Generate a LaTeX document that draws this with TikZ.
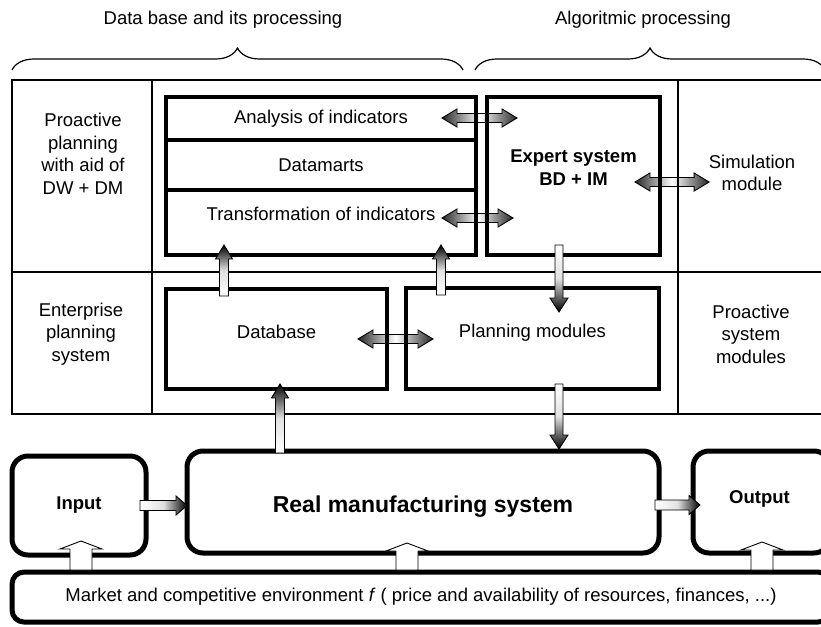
\documentclass[tikz,border=0pt]{standalone}
\usepackage{fontspec}
\setmainfont{Liberation Sans}
\usetikzlibrary{calc,decorations.pathreplacing}
\pgfdeclarelayer{background}
\pgfsetlayers{background,main}

\tikzset{
  arrow shaft/.store in=\arrshaft, arrow head/.store in=\arrhead, arrow tip/.store in=\arrtip,
  arrow shaft=4.5pt, arrow head=8.5pt, arrow tip=14pt,
  txt/.style={font=\fontsize{18.5}{22.5}\selectfont, align=center, inner sep=2pt},
  btxt/.style={txt, font=\fontsize{18.5}{22.5}\selectfont\bfseries},
  box/.style={draw, line width=4.5pt, outer sep=0pt, inner sep=0pt},
  rbox/.style={box, line width=5pt, rounded corners=16pt},
  grid/.style={line width=1.3pt},
  flow/.style={draw, line width=0.9pt, line join=miter},
  flowup/.style={flow, bottom color=white, top color=black, middle color=black!12},
  flowdown/.style={flow, top color=white, bottom color=black, middle color=black!12, arrow shaft=4pt, arrow head=9pt},
  flowright/.style={flow, left color=white, right color=black, middle color=black!12, arrow shaft=5pt, arrow head=9.5pt, arrow tip=11pt},
  flowboth/.style={flow, left color=black!85, right color=black!85, middle color=white, arrow head=9pt, arrow tip=15pt},
  feed/.style={flow, fill=white, arrow shaft=11pt, arrow head=21pt, arrow tip=8pt},
}

% block arrows: [style]{start}{tip}
\newcommand\flowv[3][]{%
  \path[#1] let \p1=(#2), \p2=(#3), \p3=($(\p2)!\arrtip!(\p1)$) in
    (\x1-\arrshaft,\y1) -- (\x1-\arrshaft,\y3) -- (\x1-\arrhead,\y3) -- (\x1,\y2)
    -- (\x1+\arrhead,\y3) -- (\x1+\arrshaft,\y3) -- (\x1+\arrshaft,\y1) -- cycle;}
\newcommand\flowh[3][]{%
  \path[#1] let \p1=(#2), \p2=(#3), \p3=($(\p2)!\arrtip!(\p1)$) in
    (\x1,\y1-\arrshaft) -- (\x3,\y1-\arrshaft) -- (\x3,\y1-\arrhead) -- (\x2,\y1)
    -- (\x3,\y1+\arrhead) -- (\x3,\y1+\arrshaft) -- (\x1,\y1+\arrshaft) -- cycle;}
\newcommand\flowhh[3][]{%
  \path[#1] let \p1=(#2), \p2=(#3), \p3=($(\p2)!\arrtip!(\p1)$), \p4=($(\p1)!\arrtip!(\p2)$) in
    (\x1,\y1) -- (\x4,\y1+\arrhead) -- (\x4,\y1+\arrshaft) -- (\x3,\y1+\arrshaft) -- (\x3,\y1+\arrhead)
    -- (\x2,\y1) -- (\x3,\y1-\arrhead) -- (\x3,\y1-\arrshaft) -- (\x4,\y1-\arrshaft) -- (\x4,\y1-\arrhead) -- cycle;}

\begin{document}
\begin{tikzpicture}[x=1pt, y=-1pt]
\useasboundingbox (0,0) rectangle (821,626);
% headings and braces
\node[txt] (hdata) at (223,20) {Data base and its processing};
\node[txt] (halgo) at (643,20) {Algoritmic processing};
\draw[line width=1.2pt, decorate, decoration={brace, amplitude=22pt}] (12,70) -- (463,70);
\draw[line width=1.2pt, decorate, decoration={brace, amplitude=22pt}] (475,70) -- (825,70);
% table
\draw[grid] (12,80) rectangle (830,414);
\draw[grid] (12,272) -- (830,272);
\draw[grid] (152,80) -- (152,414);
\draw[grid] (678,80) -- (678,414);
\node[txt] (dwlbl) at (83,154) {Proactive\\planning\\with aid of\\DW + DM};
\node[txt] (sim) at (752,173) {Simulation\\module};
\node[txt] (eps) at (81,334) {Enterprise\\planning\\system};
\node[txt] (psm) at (751,334) {Proactive\\system\\modules};
% data warehouse
\node[box, txt, minimum width=310pt, minimum height=43pt] (ana) at (321,118.5) {Analysis of indicators};
\node[box, txt, minimum width=310pt, minimum height=50pt] (dmart) at (321,165) {Datamarts};
\node[box, minimum width=310pt, minimum height=65pt] (trans) at (321,222.5) {};
\node[txt] (translbl) at ([yshift=9pt]trans.center) {Transformation of indicators};
\node[box, minimum width=173pt, minimum height=158pt] (expert) at (573.5,176) {};
\node[btxt] (explbl) at ([yshift=8.5pt]expert.center) {Expert system\\BD + IM};
% planning system
\node[box, minimum width=221pt, minimum height=100pt] (db) at (276.5,339) {};
\node[txt] (dblbl) at ([yshift=7pt]db.center) {Database};
\node[box, minimum width=253pt, minimum height=101pt] (pm) at (532.5,338.5) {};
\node[txt] (pmlbl) at ([yshift=6pt]pm.center) {Planning modules};
% manufacturing
\node[rbox, btxt, minimum width=134pt, minimum height=99pt] (input) at (79,505.5) {Input};
\node[rbox, minimum width=472pt, minimum height=102pt] (rms) at (423,502) {};
\node[btxt, font=\fontsize{23}{27}\selectfont\bfseries] (rmslbl) at ([yshift=-5pt]rms.center) {Real manufacturing system};
\node[rbox, minimum width=137pt, minimum height=102pt] (output) at (761.5,502) {};
\node[btxt] (outlbl) at ([xshift=-2pt,yshift=3pt]output.center) {Output};
\node[rbox, txt, rounded corners=12pt, minimum width=818pt, minimum height=50pt] (market) at (421,597)
  {Market and competitive environment \textit{f} ( price and availability of resources, finances, ...)};
% two-way arrows under the boxes
\begin{pgfonlayer}{background}
\flowhh[flowboth]{$(ana.east)+(-34,-0.5)$}{$(expert.west |- ana.east)+(30,-0.5)$}
\flowhh[flowboth]{$(trans.east)+(-34,-4.5)$}{$(expert.west |- trans.east)+(26,-4.5)$}
\flowhh[flowboth]{$(expert.east)+(-25,6)$}{$(sim.west |- expert.east)+(2.5,6)$}
\flowhh[flowboth]{$(db.east)+(-29,0)$}{$(pm.west |- db.east)+(27,0)$}
\end{pgfonlayer}
% one-way arrows
\flowv[flowup]{$(db.north west)+(58,7)$}{$(trans.south west)+(58,-10)$}
\flowv[flowup]{$(pm.north west)+(35,7)$}{$(trans.south east)+(-35,-10)$}
\flowv[flowdown]{$(expert.south)+(-14.5,-10)$}{$(pm.north)+(26.5,24)$}
\flowv[flowup]{$(rms.north)+(-143,2)$}{$(db.south)+(3.5,-5)$}
\flowv[flowdown]{$(pm.south)+(26.5,-5)$}{$(rms.north)+(136,-2)$}
\flowh[flowright]{$(input.east)+(-6,0)$}{$(rms.west |- input.east)$}
\flowh[flowright]{$(rms.east)+(-4,3)$}{$(output.west |- rms.east)+(7,3)$}
% market feeds
\flowv[feed]{$(input.south |- market.north)+(2,-2)$}{$(input.south)+(2,-14)$}
\flowv[feed]{$(rms.south |- market.north)+(-16,-2)$}{$(rms.south)+(-16,-10)$}
\flowv[feed]{$(output.south |- market.north)+(0.5,-2)$}{$(output.south)+(0.5,-11)$}
\end{tikzpicture}
\end{document}
